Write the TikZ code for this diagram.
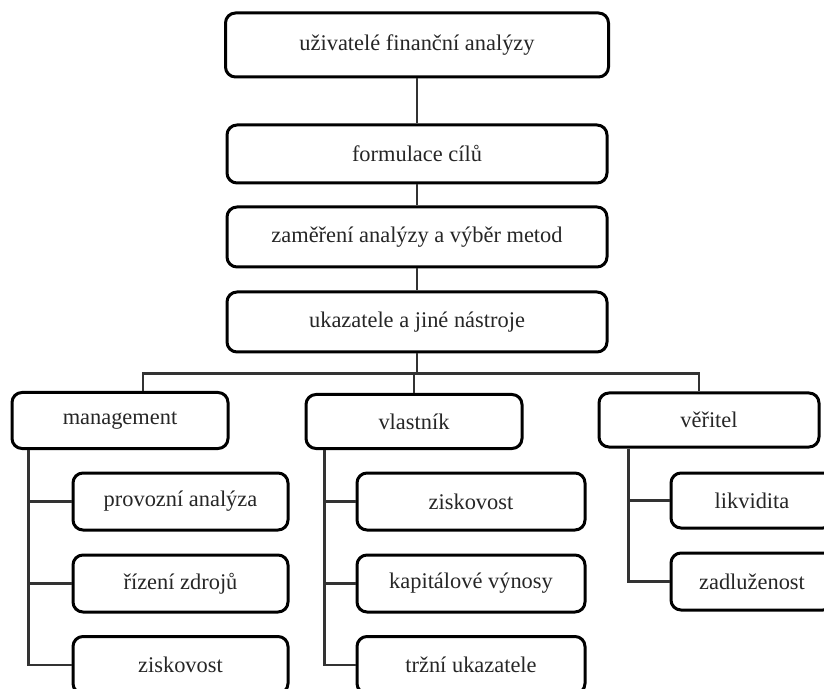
\documentclass[tikz,border=0pt]{standalone}
\usepackage{fontspec}
\setmainfont{Liberation Serif}
\usetikzlibrary{calc}
\begin{document}
\begin{tikzpicture}[x=0.5pt,y=-0.5pt,
  box/.style={draw=black,line width=1.5pt,rounded corners=5pt,fill=white,
    inner sep=0pt,font=\fontsize{11.2}{13}\selectfont,text=black!85},
  conn/.style={draw=black!80,line width=1.1pt}]
\useasboundingbox (0,0) rectangle (824,689);
\begin{scope}
\clip (0,0) rectangle (824,689);
% top chain
\node[box,minimum width=191.5pt,minimum height=32pt] (t1) at (417,45) {uživatelé finanční analýzy};
\node[box,minimum width=190pt,minimum height=29pt] (t2) at (417,154) {formulace cílů};
\node[box,minimum width=190pt,minimum height=30pt] (t3) at (417,237) {zaměření analýzy a výběr metod};
\node[box,minimum width=190pt,minimum height=30pt] (t4) at (417,322) {ukazatele a jiné nástroje};
% categories
\node[box,minimum width=108pt,minimum height=28pt] (mg) at (120,420.5) {management};
\node[box,minimum width=108pt,minimum height=27pt] (vl) at (414,421.5) {vlastník};
\node[box,minimum width=110pt,minimum height=27pt] (vr) at (709,420) {věřitel};
% management children
\node[box,minimum width=107.5pt,minimum height=28.5pt] (m1) at (180.5,501.5) {provozní analýza};
\node[box,minimum width=107.5pt,minimum height=28.5pt] (m2) at (180.5,583.5) {řízení zdrojů};
\node[box,minimum width=107.5pt,minimum height=28.5pt] (m3) at (180.5,665) {ziskovost};
% vlastnik children
\node[box,minimum width=114pt,minimum height=28.5pt] (v1) at (471,501.5) {ziskovost};
\node[box,minimum width=114pt,minimum height=28.5pt] (v2) at (471,583.5) {kapitálové výnosy};
\node[box,minimum width=114pt,minimum height=28.5pt] (v3) at (471,665) {tržní ukazatele};
% veritel children
\node[box,minimum width=81pt,minimum height=27.5pt] (r1) at (752,500.5) {likvidita};
\node[box,minimum width=81pt,minimum height=28.5pt] (r2) at (752,581.5) {zadluženost};
% chain connectors
\draw[conn] (t1.south) -- (t2.north);
\draw[conn] (t2.south) -- (t3.north);
\draw[conn] (t3.south) -- (t4.north);
\coordinate (bus) at ($(t4.south)+(0,20)$);
\draw[conn] (t4.south) -- (bus);
\coordinate (mgd) at ($(mg.north)+(23,0)$);
\coordinate (vrd) at ($(vr.north)+(-10,0)$);
\draw[conn] (mgd) |- (bus) -| (vrd);
\draw[conn] (vl.north) -- (vl.north |- bus);
% management trunk
\coordinate (mt) at ($(mg.south west)+(18,0)$);
\draw[conn] (mt) |- (m3.west);
\draw[conn] (m1.west) -- (m1.west -| mt);
\draw[conn] (m2.west) -- (m2.west -| mt);
% vlastnik trunk
\coordinate (vt) at ($(vl.south west)+(20,0)$);
\draw[conn] (vt) |- (v3.west);
\draw[conn] (v1.west) -- (v1.west -| vt);
\draw[conn] (v2.west) -- (v2.west -| vt);
% veritel trunk
\coordinate (rt) at ($(vr.south west)+(31,0)$);
\draw[conn] (rt) |- (r2.west);
\draw[conn] (r1.west) -- (r1.west -| rt);
\end{scope}
\end{tikzpicture}
\end{document}
